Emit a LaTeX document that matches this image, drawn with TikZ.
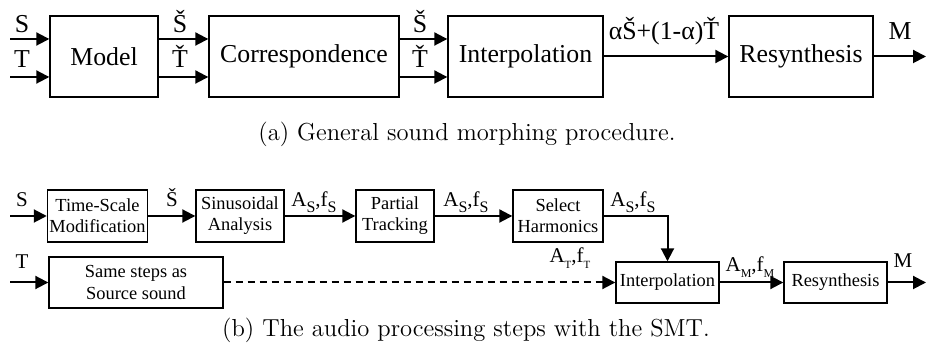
\documentclass[tikz,border=0pt]{standalone}
\usepackage{fontspec}
\usepackage{tikz}
\usetikzlibrary{arrows.meta}
\setmainfont{LiberationSerif}[Extension=.ttf, UprightFont=*-Regular, BoldFont=*-Bold]
\newfontfamily\lmr{Latin Modern Roman}
\tikzset{
  blk/.style={draw, rectangle, line width=0.7pt, inner sep=1pt, align=center},
  bigblk/.style={blk, font=\fontsize{12.9}{14}\selectfont, minimum height=40.5pt},
  smlblk/.style={blk, font=\fontsize{9.2}{10.6}\selectfont},
  link/.style={-{Triangle[length=6.5pt,width=6.5pt]}, line width=1pt},
  dlink/.style={link, dash pattern=on 3.5pt off 2.5pt},
  lbl/.style={anchor=base, inner sep=0pt, font=\fontsize{12.9}{14}\selectfont},
  slbl/.style={lbl, font=\fontsize{10.5}{12}\selectfont},
  subcap/.style={anchor=base, inner sep=0pt, font=\lmr\fontsize{12.3}{14}\selectfont}
}
\newcommand{\lowr}[2]{\raisebox{-0.25em}{\fontsize{#1}{#1}\selectfont #2}}

\begin{document}
\begin{tikzpicture}[x=0.5pt, y=-0.5pt]
\useasboundingbox (0,0) rectangle (927,362);
% (a) general procedure
\node[bigblk, minimum width=54pt] (md) at (104,56.5) {Model};
\node[bigblk, minimum width=95pt] (cr) at (304,56.5) {Correspondence};
\node[bigblk, minimum width=77.5pt] (ip) at (525.5,56.5) {Interpolation};
\node[bigblk, minimum width=72pt] (rs) at (801,56.5) {Resynthesis};
\coordinate (s0) at (10,39);
\coordinate (t0) at (10,77);
\coordinate (m0) at (926,56.5);
\draw[link] (s0) -- (s0 -| md.west);
\draw[link] (t0) -- (t0 -| md.west);
\draw[link] (md.east |- s0) -- (cr.west |- s0);
\draw[link] (md.east |- t0) -- (cr.west |- t0);
\draw[link] (cr.east |- s0) -- (ip.west |- s0);
\draw[link] (cr.east |- t0) -- (ip.west |- t0);
\draw[link] (ip.east) -- (rs.west);
\draw[link] (rs.east) -- (m0);
\node[lbl] (la1) at (22,33) {S};
\node[lbl] (la2) at (22,68) {T};
\node[lbl] (la3) at (180,33) {Š};
\node[lbl] (la4) at (180,68) {Ť};
\node[lbl] (la5) at (420,33) {Š};
\node[lbl] (la6) at (420,68) {Ť};
\node[lbl] (la7) at (664,40) {αŠ+(1-α)Ť};
\node[lbl] (la8) at (900,40) {M};
\node[subcap] (capa) at (467,141) {(a) General sound morphing procedure.};
% (b) processing steps with the SMT
\node[smlblk, minimum width=49.5pt, minimum height=26pt] (ts) at (97.5,216) {Time-Scale\\Modification};
\node[smlblk, minimum width=44pt, minimum height=26pt] (sa) at (240,216) {Sinusoidal\\Analysis};
\node[smlblk, minimum width=39pt, minimum height=26pt] (pt) at (395,216) {Partial\\Tracking};
\node[smlblk, minimum width=45pt, minimum height=26pt] (sh) at (558,216) {Select\\Harmonics};
\node[smlblk, minimum width=87pt, minimum height=25.5pt] (ss) at (136,282.5) {Same steps as\\Source sound};
\node[smlblk, minimum width=51.5pt, minimum height=20.5pt] (ip2) at (667.5,282.5) {Interpolation};
\node[smlblk, minimum width=51.5pt, minimum height=20.5pt] (rs2) at (835.5,282.5) {Resynthesis};
\coordinate (s1) at (10,216);
\coordinate (t1) at (10,282.5);
\coordinate (m1) at (926,282.5);
\draw[link] (s1) -- (ts);
\draw[link] (ts) -- (sa);
\draw[link] (sa) -- (pt);
\draw[link] (pt) -- (sh);
\draw[link] (sh.east) -| (ip2.north);
\draw[link] (t1) -- (ss);
\draw[dlink] (ss) -- (ip2);
\draw[link] (ip2) -- (rs2);
\draw[link] (rs2) -- (m1);
\node[slbl] (lb1) at (22,207) {S};
\node[slbl] (lb2) at (172,207) {Š};
\node[slbl] (lb3) at (314,207) {A\lowr{8}{S},f\lowr{8}{S}};
\node[slbl] (lb4) at (466,207) {A\lowr{8}{S},f\lowr{8}{S}};
\node[slbl] (lb5) at (633,207) {A\lowr{8}{S},f\lowr{8}{S}};
\node[slbl] (lb6) at (22,269) {T};
\node[slbl] (lb7) at (570,263) {A\lowr{5.5}{T},f\lowr{5.5}{T}};
\node[slbl] (lb8) at (750,272) {A\lowr{6}{M},f\lowr{6}{M}};
\node[slbl] (lb9) at (903,268) {M};
\node[subcap] (capb) at (466,337) {(b) The audio processing steps with the SMT.};
\end{tikzpicture}
\end{document}
